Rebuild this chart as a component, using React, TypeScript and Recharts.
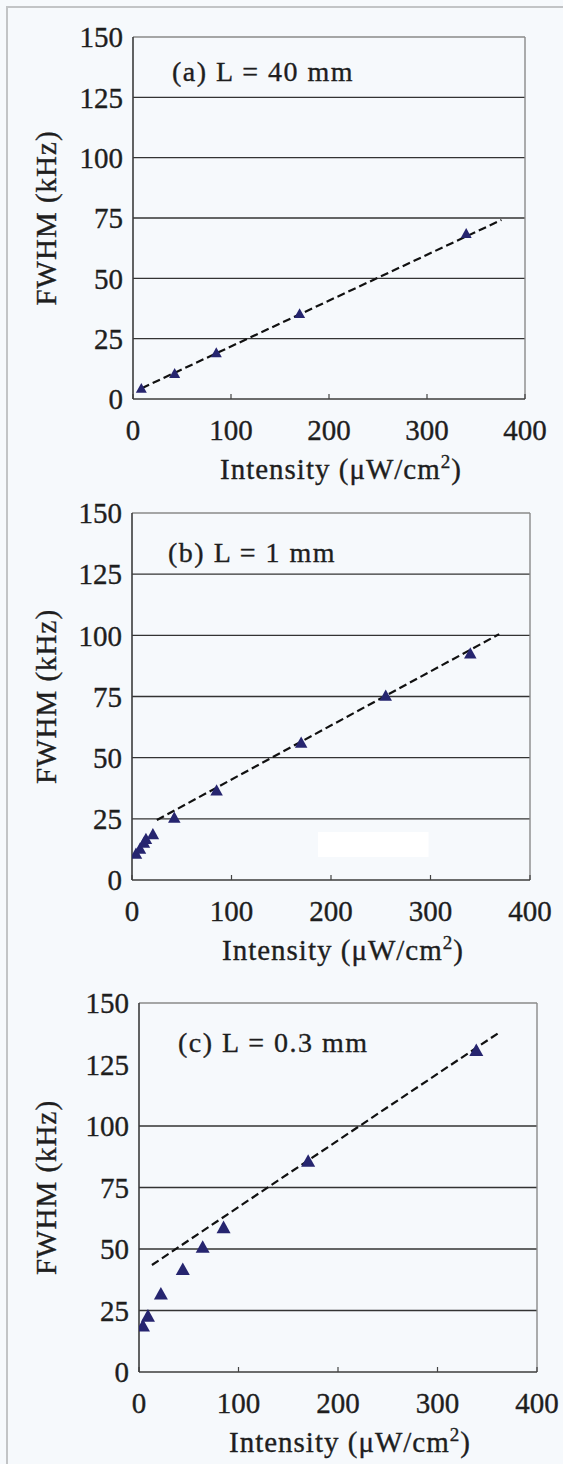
import React from "react";
import {
  ReferenceArea,
  ReferenceLine,
  Scatter,
  ScatterChart,
  XAxis,
  YAxis,
} from "recharts";

const xTicks = [0, 100, 200, 300, 400];
const yTicks = [0, 25, 50, 75, 100, 125, 150];

// (a) L = 40 mm
const intensityA = [8.5, 42.5, 85, 170, 340];
const fwhmA = [4.6, 10.8, 19.4, 35.6, 68.8];
const fitIntensityA = [9, 376];
const fitFwhmA = [4.5, 74.2];
const gridA = [25, 50, 75, 100, 125];

// (b) L = 1 mm
const intensityB = [4, 8, 12, 14, 21, 42.5, 85, 170, 255, 340];
const fwhmB = [11, 13, 15.5, 17, 19, 25.7, 36.8, 56.4, 75.6, 92.8];
const fitIntensityB = [25, 369];
const fitFwhmB = [24.5, 100.5];
const gridB = [25, 50, 75, 100, 125];

// (c) L = 0.3 mm
const intensityC = [4, 9, 22, 44, 64, 85, 170, 339];
const fwhmC = [19, 23, 32, 42, 51, 59, 86, 131];
const fitIntensityC = [13, 362];
const fitFwhmC = [43.5, 138];
const gridC = [25, 50, 75, 100];

const FONT = "'Liberation Serif', 'Times New Roman', serif";
const INK = "#1e1e1e";
const MARKER = "#26256f";

type PanelProps = {
  title: string;
  xs: number[];
  ys: number[];
  fitX: number[];
  fitY: number[];
  grid: number[];
  top: number;
  height: number;
  margin: { top: number; right: number; bottom: number; left: number };
  xAxisHeight: number;
  markerW: number;
  titlePos: [number, number];
  patch?: { x1: number; x2: number; y1: number; y2: number };
};

const textStyle = {
  fill: INK,
  fontFamily: FONT,
  stroke: INK,
  strokeWidth: 0.35,
};

function triangle(w: number) {
  const h = w * 0.9;
  return (props: any) => {
    const { cx, cy } = props;
    if (cx == null || cy == null) return <g />;
    const pts = `${cx - w / 2},${cy + h / 2} ${cx + w / 2},${cy + h / 2} ${cx},${cy - h / 2}`;
    return <polygon points={pts} fill={MARKER} />;
  };
}

function Panel(p: PanelProps) {
  const points = p.xs.map((x, i) => ({ x, y: p.ys[i] }));
  const yAxisWidth = 60;
  const plotLeft = p.margin.left + yAxisWidth;
  const plotBottom = p.height - p.margin.bottom - p.xAxisHeight;
  const plotTop = p.margin.top;
  return (
    <div style={{ position: "absolute", left: 0, top: p.top }}>
      <ScatterChart width={563} height={p.height} margin={p.margin}>
        <XAxis
          type="number"
          dataKey="x"
          domain={[0, 400]}
          ticks={xTicks}
          allowDataOverflow
          height={p.xAxisHeight}
          axisLine={{ stroke: "#3c3c3c", strokeWidth: 1.6 }}
          tickLine={{ stroke: "#444", strokeWidth: 1.2 }}
          tickSize={-5}
          tickMargin={25}
          tick={{ ...textStyle, fontSize: 29 }}
        />
        <YAxis
          type="number"
          dataKey="y"
          domain={[0, 150]}
          ticks={yTicks}
          allowDataOverflow
          width={yAxisWidth}
          axisLine={{ stroke: "#3c3c3c", strokeWidth: 1.6 }}
          tickLine={false}
          tickSize={0}
          tickMargin={10}
          tick={{ ...textStyle, fontSize: 29 }}
        />
        {p.grid.map((g) => (
          <ReferenceLine key={g} y={g} stroke="#333" strokeWidth={1.4} />
        ))}
        <ReferenceLine y={150} stroke="#8a8a8a" strokeWidth={1.4} />
        <ReferenceLine x={400} stroke="#8a8a8a" strokeWidth={1.4} />
        {p.patch && (
          <ReferenceArea
            x1={p.patch.x1}
            x2={p.patch.x2}
            y1={p.patch.y1}
            y2={p.patch.y2}
            fill="#ffffff"
            fillOpacity={1}
            stroke="none"
          />
        )}
        <ReferenceLine
          segment={[
            { x: p.fitX[0], y: p.fitY[0] },
            { x: p.fitX[1], y: p.fitY[1] },
          ]}
          stroke="#111"
          strokeWidth={2.2}
          strokeDasharray="8 4"
        />
        <Scatter
          data={points}
          shape={triangle(p.markerW)}
          fill={MARKER}
          isAnimationActive={false}
        />
        <text
          x={p.titlePos[0]}
          y={p.titlePos[1]}
          fontSize={28}
          letterSpacing={1.5}
          {...textStyle}
        >
          {p.title}
        </text>
        <text
          x={0}
          y={0}
          transform={`translate(56, ${(plotTop + plotBottom) / 2}) rotate(-90)`}
          textAnchor="middle"
          fontSize={29}
          letterSpacing={1}
          {...textStyle}
        >
          FWHM (kHz)
        </text>
        <text
          x={plotLeft + (563 - p.margin.right - plotLeft) / 2 + 12}
          y={plotBottom + 80}
          textAnchor="middle"
          fontSize={29}
          letterSpacing={1}
          {...textStyle}
        >
          Intensity (μW/cm
          <tspan dy={-11} fontSize={19}>
            2
          </tspan>
          <tspan dy={11}>)</tspan>
        </text>
      </ScatterChart>
    </div>
  );
}

export default function App() {
  return (
    <div
      style={{
        position: "absolute",
        left: 0,
        top: 0,
        width: 563,
        height: 1464,
        background: "#f6f9fc",
        overflow: "hidden",
      }}
    >
      <div
        style={{
          position: "absolute",
          left: 6,
          top: 6,
          right: 0,
          bottom: 0,
          borderLeft: "2px solid #c2c4c6",
          borderTop: "2px solid #c2c4c6",
        }}
      />
      <Panel
        title="(a) L = 40 mm"
        xs={intensityA}
        ys={fwhmA}
        fitX={fitIntensityA}
        fitY={fitFwhmA}
        grid={gridA}
        top={0}
        height={500}
        margin={{ top: 37, right: 38, bottom: 0, left: 73 }}
        xAxisHeight={101}
        markerW={11}
        titlePos={[172, 81]}
      />
      <Panel
        title="(b) L = 1 mm"
        xs={intensityB}
        ys={fwhmB}
        fitX={fitIntensityB}
        fitY={fitFwhmB}
        grid={gridB}
        top={480}
        height={490}
        margin={{ top: 33, right: 33, bottom: 0, left: 72 }}
        xAxisHeight={90}
        markerW={12.5}
        titlePos={[168, 82]}
        patch={{ x1: 187, x2: 298, y1: 9.4, y2: 19.6 }}
      />
      <Panel
        title="(c) L = 0.3 mm"
        xs={intensityC}
        ys={fwhmC}
        fitX={fitIntensityC}
        fitY={fitFwhmC}
        grid={gridC}
        top={960}
        height={504}
        margin={{ top: 43, right: 26, bottom: 0, left: 79 }}
        xAxisHeight={92}
        markerW={14}
        titlePos={[178, 92]}
      />
    </div>
  );
}
